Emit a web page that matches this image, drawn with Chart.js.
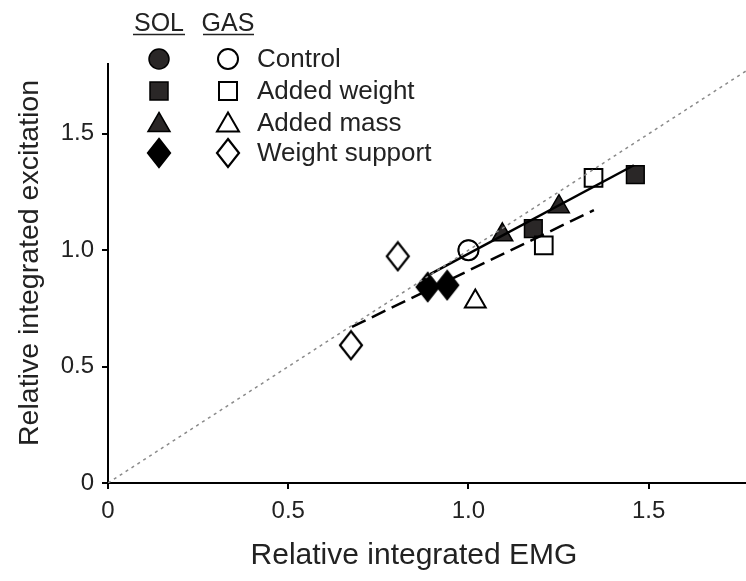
<!DOCTYPE html>
<html>
<head>
<meta charset="utf-8">
<script src="https://cdn.jsdelivr.net/npm/chart.js@4.4.0/dist/chart.umd.min.js"></script>
<style>
    html, body { margin: 0; padding: 0; background: #fff; }
</style>
</head>
<body>
<canvas id="emgChart" width="746" height="581"></canvas>
<script>
// Conditions (legend order)
const conditions = ['Control', 'Added weight', 'Added mass', 'Weight support'];

// SOL (filled markers): relative integrated EMG (x) / excitation (y)
const solControlX = [1.0];
const solControlY = [1.0];
const solWeightX = [1.180, 1.463];
const solWeightY = [1.093, 1.325];
const solMassX = [1.094, 1.251];
const solMassY = [1.066, 1.187];
const solSupportX = [0.887, 0.941];
const solSupportY = [0.842, 0.850];

// GAS (open markers)
const gasControlX = [1.0];
const gasControlY = [1.0];
const gasWeightX = [1.209, 1.347];
const gasWeightY = [1.021, 1.311];
const gasMassX = [1.019];
const gasMassY = [0.780];
const gasSupportX = [0.674, 0.804];
const gasSupportY = [0.592, 0.974];

// Fit lines
const solFitX = [0.894, 1.459];
const solFitY = [0.897, 1.365];
const gasFitX = [0.677, 1.348];
const gasFitY = [0.671, 1.172];
const unityX = [0, 1.77];
const unityY = [0, 1.77];

// Ticks
const xTicks = [0, 0.5, 1.0, 1.5];
const yTicks = [0, 0.5, 1.0, 1.5];

const FONT = "'Liberation Sans', Arial, sans-serif";
const DARK = '#2a2727';
const TEXT = '#222';

function pts(xs, ys) {
    return xs.map((x, i) => ({ x: x, y: ys[i] }));
}

function fmt(v) {
    return v === 0 ? '0' : v.toFixed(1);
}

// Diamond marker (taller than wide) as an image
function makeDiamond(filled) {
    const w = 22, h = 28, lw = 2.2;
    const c = document.createElement('canvas');
    c.width = w + 4;
    c.height = h + 4;
    const g = c.getContext('2d');
    g.beginPath();
    g.moveTo(c.width / 2, 2);
    g.lineTo(c.width - 2, c.height / 2);
    g.lineTo(c.width / 2, c.height - 2);
    g.lineTo(2, c.height / 2);
    g.closePath();
    g.fillStyle = filled ? '#000' : '#fff';
    g.fill();
    g.lineWidth = lw;
    g.strokeStyle = '#000';
    g.stroke();
    return c;
}
const diamondFilled = makeDiamond(true);
const diamondOpen = makeDiamond(false);

const markerSize = { circle: 10, rect: 12.5, triangle: 12 };

function solSet(label, xs, ys, style) {
    return {
        label: 'SOL ' + label,
        data: pts(xs, ys),
        pointStyle: style,
        pointRadius: markerSize[style] || 12,
        backgroundColor: DARK,
        borderColor: '#000',
        borderWidth: 1.5,
        order: 3
    };
}

function gasSet(label, xs, ys, style) {
    return {
        label: 'GAS ' + label,
        data: pts(xs, ys),
        pointStyle: style,
        pointRadius: markerSize[style] || 12,
        backgroundColor: '#fff',
        borderColor: '#000',
        borderWidth: 2,
        order: 2
    };
}

function lineSet(label, xs, ys, width, color, dash) {
    return {
        type: 'line',
        label: label,
        data: pts(xs, ys),
        showLine: true,
        pointRadius: 0,
        borderColor: color,
        borderWidth: width,
        borderDash: dash,
        fill: false,
        order: 1
    };
}

function drawMarker(ctx, style, filled, x, y) {
    ctx.save();
    ctx.fillStyle = filled ? DARK : '#fff';
    ctx.strokeStyle = '#000';
    ctx.lineWidth = filled ? 1.5 : 2;
    ctx.beginPath();
    if (style === 'circle') {
        ctx.arc(x, y, 10, 0, Math.PI * 2);
    } else if (style === 'rect') {
        ctx.rect(x - 9, y - 9, 18, 18);
    } else if (style === 'triangle') {
        ctx.moveTo(x, y - 10.5);
        ctx.lineTo(x + 11, y + 8.5);
        ctx.lineTo(x - 11, y + 8.5);
        ctx.closePath();
    } else {
        const img = filled ? diamondFilled : diamondOpen;
        ctx.drawImage(img, x - img.width / 2, y - img.height / 2);
        ctx.restore();
        return;
    }
    ctx.fill();
    ctx.stroke();
    ctx.restore();
}

// Legend block + axis titles
const annotatePlugin = {
    id: 'annotate',
    afterDraw(chart) {
        const ctx = chart.ctx;
        ctx.save();
        ctx.fillStyle = TEXT;
        ctx.textBaseline = 'alphabetic';
        ctx.textAlign = 'center';
        ctx.font = '25px ' + FONT;
        ctx.fillText('SOL', 159, 31);
        ctx.fillText('GAS', 228, 31);
        ctx.strokeStyle = TEXT;
        ctx.lineWidth = 1.5;
        ctx.beginPath();
        ctx.moveTo(133, 34.5); ctx.lineTo(185, 34.5);
        ctx.moveTo(203, 34.5); ctx.lineTo(254, 34.5);
        ctx.stroke();

        const rows = [59, 91, 123, 153];
        const styles = ['circle', 'rect', 'triangle', 'diamond'];
        styles.forEach((s, i) => {
            drawMarker(ctx, s, true, 159, rows[i]);
            drawMarker(ctx, s, false, 228, rows[i]);
        });
        ctx.textAlign = 'left';
        ctx.textBaseline = 'middle';
        ctx.fillStyle = TEXT;
        ctx.font = '26px ' + FONT;
        conditions.forEach((c, i) => ctx.fillText(c, 257, rows[i] + 1));

        // axis titles
        ctx.textAlign = 'center';
        ctx.font = '30px ' + FONT;
        ctx.fillText('Relative integrated EMG', 414, 556);
        ctx.translate(30, 263);
        ctx.rotate(-Math.PI / 2);
        ctx.font = '28.5px ' + FONT;
        ctx.fillText('Relative integrated excitation', 0, 0);
        ctx.restore();
    }
};

const ctx = document.getElementById('emgChart').getContext('2d');
new Chart(ctx, {
    type: 'scatter',
    data: {
        datasets: [
            solSet(conditions[0], solControlX, solControlY, 'circle'),
            solSet(conditions[1], solWeightX, solWeightY, 'rect'),
            solSet(conditions[2], solMassX, solMassY, 'triangle'),
            solSet(conditions[3], solSupportX, solSupportY, diamondFilled),
            gasSet(conditions[0], gasControlX, gasControlY, 'circle'),
            gasSet(conditions[1], gasWeightX, gasWeightY, 'rect'),
            gasSet(conditions[2], gasMassX, gasMassY, 'triangle'),
            gasSet(conditions[3], gasSupportX, gasSupportY, diamondOpen),
            lineSet('Unity', unityX, unityY, 1.5, '#8a8a8a', [3, 4]),
            lineSet('SOL fit', solFitX, solFitY, 2.5, '#000', []),
            lineSet('GAS fit', gasFitX, gasFitY, 2.5, '#000', [15, 7])
        ]
    },
    options: {
        responsive: false,
        animation: false,
        devicePixelRatio: 1,
        layout: { autoPadding: false, padding: { top: 64, right: 0, bottom: 0, left: 0 } },
        plugins: {
            legend: { display: false },
            tooltip: { enabled: false }
        },
        scales: {
            x: {
                type: 'linear',
                min: 0,
                max: 1.77,
                afterBuildTicks: s => { s.ticks = xTicks.map(v => ({ value: v })); },
                afterFit: s => { s.height = 98; },
                border: { display: true, color: '#000', width: 2 },
                grid: { drawOnChartArea: false, drawTicks: true, tickLength: 6, color: '#000', lineWidth: 2 },
                ticks: {
                    font: { size: 24, family: FONT },
                    color: TEXT,
                    padding: 8,
                    maxRotation: 0,
                    callback: v => fmt(v)
                }
            },
            y: {
                type: 'linear',
                min: 0,
                max: 1.8,
                afterBuildTicks: s => { s.ticks = yTicks.map(v => ({ value: v })); },
                afterFit: s => { s.width = 108; },
                border: { display: true, color: '#000', width: 2 },
                grid: { drawOnChartArea: false, drawTicks: true, tickLength: 6, color: '#000', lineWidth: 2 },
                ticks: {
                    font: { size: 24, family: FONT },
                    color: TEXT,
                    padding: 8,
                    callback: v => fmt(v)
                }
            }
        }
    },
    plugins: [annotatePlugin]
});
</script>
</body>
</html>
